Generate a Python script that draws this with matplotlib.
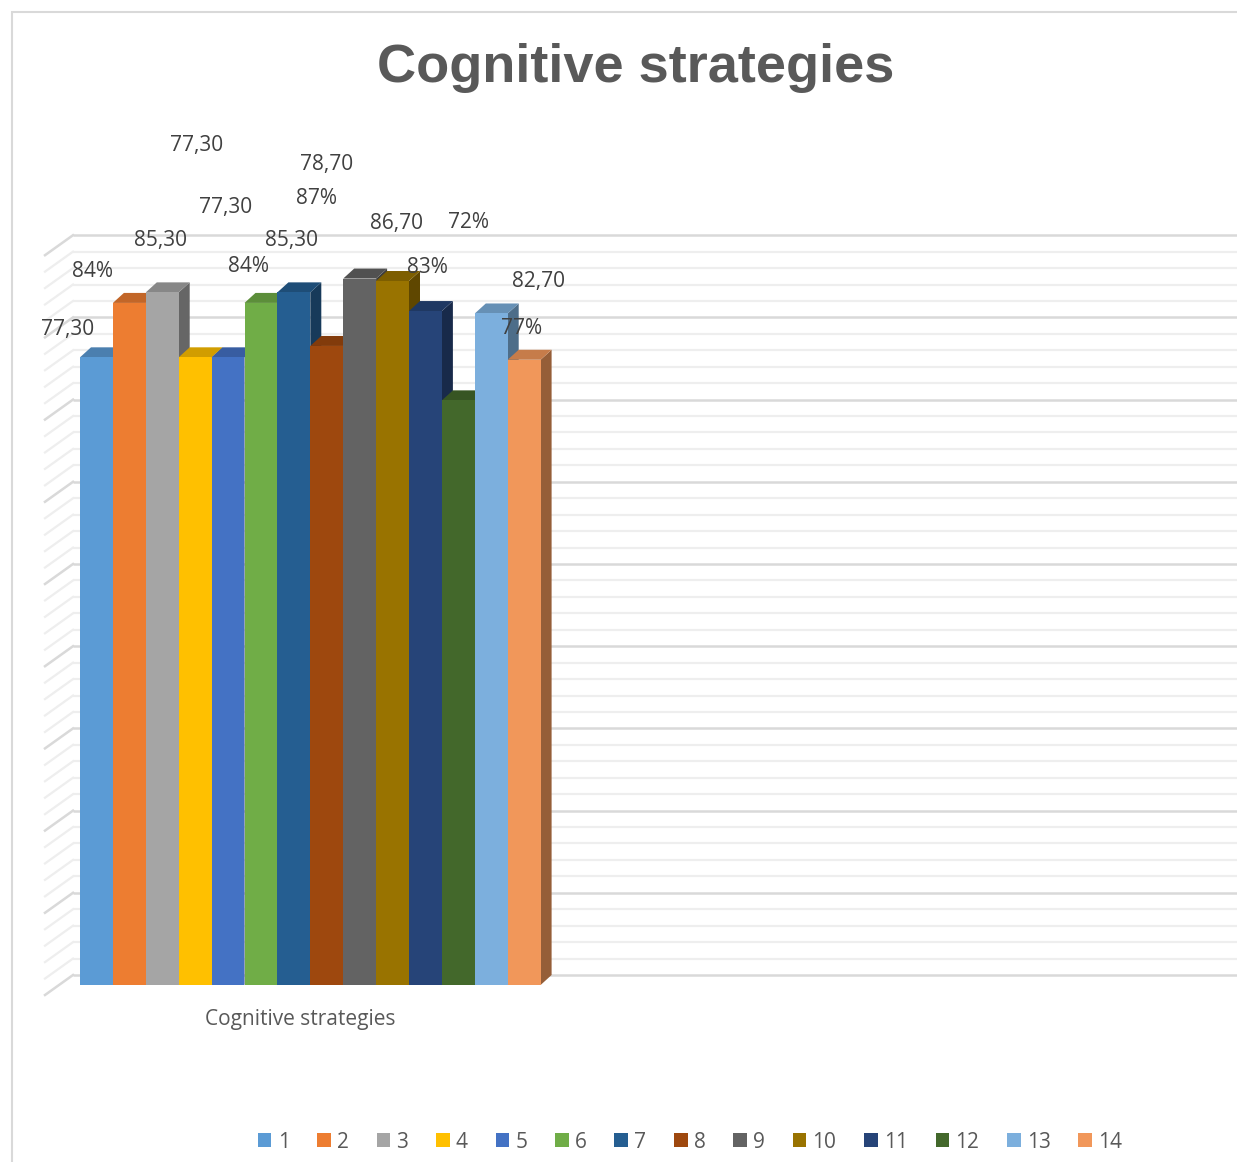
import numpy as np
import matplotlib
matplotlib.use('Agg')
import matplotlib.pyplot as plt
from matplotlib.patches import Polygon, Patch, Rectangle
from matplotlib.colors import to_rgb

# data
series = [str(i) for i in range(1, 15)]
values = [77.3, 84, 85.3, 77.3, 77.3, 84, 85.3, 78.7, 87, 86.7, 83, 72, 82.7, 77]
labels = ['77,30', '84%', '85,30', '77,30', '77,30', '84%', '85,30',
          '78,70', '87%', '86,70', '83%', '72%', '82,70', '77%']
category = 'Cognitive strategies'
title = 'Cognitive strategies'
colors = ['#5B9BD5', '#ED7D31', '#A5A5A5', '#FFC000', '#4472C4', '#70AD47', '#255E91',
          '#9E480E', '#636363', '#997300', '#264478', '#43682B', '#7CAFDD', '#F1975A']

# label offsets (pixels) from the top centre of each bar, labels were dragged around
label_dx = [-29, -37, -2, 1, -2, -12, -2, 0, -43, 4, 2, 10, 47, -3]
label_dy = [28, 31, 52, 212, 150, 36, 52, 181, 80, 57, 44, 178, 32, 31]

W, H = 1237, 1162
fig = plt.figure(figsize=(W / 100, H / 100), dpi=100)

# chart border (cut on right / bottom)
fig.add_artist(Rectangle((12 / W, -0.1), 1.2, (H - 12) / H + 0.1, transform=fig.transFigure,
                         fill=False, edgecolor='#d9d9d9', linewidth=1.5))

# px helpers
x0_px, base_px, bw_px, sc = 80, 985, 32.9, 8.12
ax = fig.add_axes([0, (H - 1000) / H, 1, (1000 - 225) / H])
ax.set_xlim(-x0_px / bw_px, (W - x0_px) / bw_px)
ax.set_ylim((base_px - 1000) / sc, (base_px - 225) / sc)
ax.axis('off')

# back wall + left wall gridlines (0..90, minor 2, major 10)
wall_sc = 8.22 / sc
back_off = 10 / sc
wall_dx, wall_dy = 28 / bw_px, 20 / sc
back_left = -7 / bw_px
for v in np.arange(0, 91, 2):
    major = v % 10 == 0
    c = '#d9d9d9' if major else '#eeeeee'
    lw = 1.8 if major else 1.6
    y = back_off + v * wall_sc
    ax.plot([back_left, 40], [y, y], color=c, lw=lw, zorder=1, solid_capstyle='butt')
    ax.plot([back_left - wall_dx, back_left], [y - wall_dy, y], color=c, lw=lw, zorder=1)

# 3d-ish bars
bdx, bdy = 11 / bw_px, 10 / sc


def shade(col, f):
    r, g, b = to_rgb(col)
    return (r * f, g * f, b * f)


for i, (v, col) in enumerate(zip(values, colors)):
    z = 10 + i
    xl, xr = i, i + 1
    ax.bar(i + 0.5, v, width=1, color=col, zorder=z + 0.2)
    ax.add_patch(Polygon([(xl, v), (xr, v), (xr + bdx, v + bdy), (xl + bdx, v + bdy)],
                         closed=True, facecolor=shade(col, 0.82), edgecolor='none', zorder=z + 0.1))
    ax.add_patch(Polygon([(xr, 0), (xr + bdx, bdy), (xr + bdx, v + bdy), (xr, v)],
                         closed=True, facecolor=shade(col, 0.62), edgecolor='none', zorder=z))

# data labels
for i, (v, lab) in enumerate(zip(values, labels)):
    ax.annotate(lab, (i + 0.5, v), xytext=(label_dx[i] * 0.72, label_dy[i] * 0.72),
                textcoords='offset points', ha='center', va='center',
                fontsize=15, color='#404040', family='Open Sans', zorder=50)

# category label
ax.text((300 - x0_px) / bw_px, (base_px - 1020) / sc, category, ha='center', va='center',
        fontsize=15, color='#595959', family='Open Sans')

fig.text(636 / W, 1 - 68 / H, title, ha='center', va='center', fontsize=39,
         fontweight='bold', color='#595959', family='Liberation Sans')

handles = [Patch(facecolor=c, edgecolor='none', label=s) for c, s in zip(colors, series)]
leg = fig.legend(handles=handles, loc='center', bbox_to_anchor=(690 / W, 1 - 1142 / H),
                 ncol=14, frameon=False, handlelength=0.65, handleheight=0.65,
                 handletextpad=0.3, columnspacing=1.33,
                 prop={'family': 'Open Sans', 'size': 15})
for t in leg.get_texts():
    t.set_color('#595959')

fig.savefig('out.png', dpi=100)
